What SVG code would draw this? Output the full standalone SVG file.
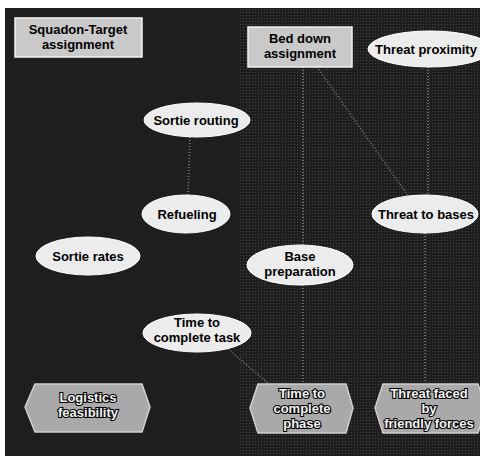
<svg xmlns="http://www.w3.org/2000/svg" width="480" height="456" viewBox="0 0 480 456">
  <defs>
    <pattern id="dots" width="3" height="3" patternUnits="userSpaceOnUse">
      <rect x="0" y="0" width="1" height="1" fill="#8a8a8a"/>
    </pattern>
    <style>
      .bg { fill: #1e1e1e; }
      .box { fill: #c9c9c9; stroke: #f2f2f2; stroke-width: 1.5; }
      .ell { fill: #ececec; stroke: #ffffff; stroke-width: 1; }
      .hex { fill: #a9a9a9; stroke: #d0d0d0; stroke-width: 1.5; }
      .t { font-family: "Liberation Sans", Arial, sans-serif; font-weight: bold; font-size: 13px; text-anchor: middle; fill: #000; }
      .th { font-family: "Liberation Sans", Arial, sans-serif; font-weight: bold; font-size: 13px; text-anchor: middle; fill: #f4f4f4; stroke: #000; stroke-width: 2.2; paint-order: stroke; }
      .link { stroke: #6e6e6e; stroke-width: 2; stroke-dasharray: 1 2; fill: none; }
    </style>
  </defs>
  <rect x="0" y="0" width="480" height="456" fill="#ffffff"/>
  <rect class="bg" x="5" y="8" width="475" height="448"/>
  <rect x="240" y="8" width="240" height="448" fill="url(#dots)" opacity="0.35"/>

  <g id="connectors">
    <line class="link" x1="303" y1="67" x2="303" y2="245"/>
    <line class="link" x1="317" y1="67" x2="409" y2="197"/>
    <line class="link" x1="428" y1="67" x2="428" y2="195"/>
    <line class="link" x1="425" y1="233" x2="425" y2="383"/>
    <line class="link" x1="303" y1="285" x2="303" y2="383"/>
    <line class="link" x1="228" y1="349" x2="268" y2="383"/>
    <line class="link" x1="190" y1="137" x2="188" y2="195"/>
  </g>

  <g id="squadron-target">
    <rect class="box" x="15" y="18" width="127" height="39"/>
    <text class="t" x="78" y="34">Squadon-Target</text>
    <text class="t" x="78" y="49">assignment</text>
  </g>

  <g id="bed-down">
    <rect class="box" x="248" y="27" width="104" height="40"/>
    <text class="t" x="300" y="43">Bed down</text>
    <text class="t" x="300" y="58">assignment</text>
  </g>

  <g id="threat-proximity">
    <ellipse class="ell" cx="430" cy="49" rx="62" ry="18"/>
    <text class="t" x="426" y="54">Threat proximity</text>
  </g>

  <g id="sortie-routing">
    <ellipse class="ell" cx="197" cy="120" rx="53" ry="17"/>
    <text class="t" x="196" y="125">Sortie routing</text>
  </g>

  <g id="refueling">
    <ellipse class="ell" cx="186" cy="214" rx="44" ry="19"/>
    <text class="t" x="187" y="219">Refueling</text>
  </g>

  <g id="sortie-rates">
    <ellipse class="ell" cx="88" cy="256" rx="52" ry="19"/>
    <text class="t" x="88" y="261">Sortie rates</text>
  </g>

  <g id="threat-to-bases">
    <ellipse class="ell" cx="425" cy="214" rx="53" ry="19"/>
    <text class="t" x="426" y="219">Threat to bases</text>
  </g>

  <g id="base-preparation">
    <ellipse class="ell" cx="300" cy="265" rx="53" ry="20"/>
    <text class="t" x="300" y="261">Base</text>
    <text class="t" x="300" y="276">preparation</text>
  </g>

  <g id="time-to-complete-task">
    <ellipse class="ell" cx="197" cy="333" rx="54" ry="19"/>
    <text class="t" x="197" y="327">Time to</text>
    <text class="t" x="197" y="342">complete task</text>
  </g>

  <g id="logistics-feasibility">
    <polygon class="hex" points="25,407 35,384 142,384 150,407 142,432 35,432"/>
    <text class="th" x="88" y="402">Logistics</text>
    <text class="th" x="88" y="417">feasibility</text>
  </g>

  <g id="time-to-complete-phase">
    <polygon class="hex" points="250,408 258,384 346,384 353,408 346,433 258,433"/>
    <text class="th" x="302" y="398">Time to</text>
    <text class="th" x="302" y="413">complete</text>
    <text class="th" x="302" y="428">phase</text>
  </g>

  <g id="threat-faced">
    <polygon class="hex" points="375,408 383,384 478,384 486,408 478,433 383,433"/>
    <text class="th" x="429" y="398">Threat faced</text>
    <text class="th" x="429" y="413">by</text>
    <text class="th" x="429" y="428">friendly forces</text>
  </g>
</svg>
